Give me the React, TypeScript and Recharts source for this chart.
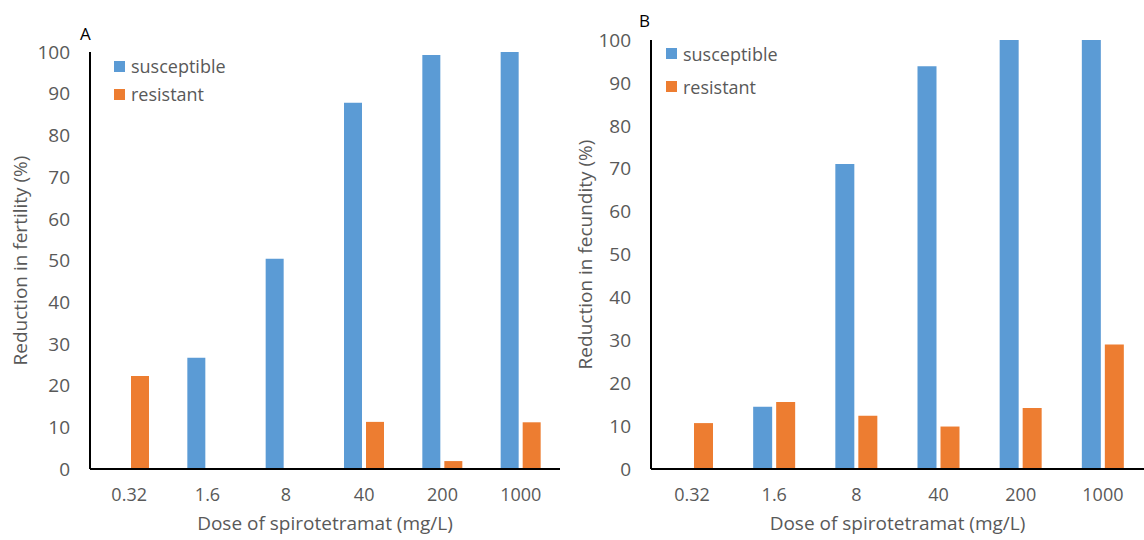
import React from 'react';
import { BarChart, Bar, XAxis, YAxis } from 'recharts';

const categories = ['0.32', '1.6', '8', '40', '200', '1000'];
const fertilitySusceptible = [0, 26.7, 50.4, 87.8, 99.3, 100];
const fertilityResistant = [22.3, 0, 0, 11.3, 1.9, 11.2];
const fecunditySusceptible = [0, 14.5, 71.1, 93.9, 100, 100];
const fecundityResistant = [10.7, 15.6, 12.4, 9.9, 14.2, 29.0];
const yTicks = [0, 10, 20, 30, 40, 50, 60, 70, 80, 90, 100];
const seriesNames = ['susceptible', 'resistant'];

const BLUE = '#5B9BD5';
const ORANGE = '#ED7D31';
const seriesColors = [BLUE, ORANGE];
const TEXT = '#595959';
const FONT = '"Open Sans", sans-serif';

const dataA = categories.map((c, i) => ({ dose: c, susceptible: fertilitySusceptible[i], resistant: fertilityResistant[i] }));
const dataB = categories.map((c, i) => ({ dose: c, susceptible: fecunditySusceptible[i], resistant: fecundityResistant[i] }));

function LegendBox(props: { left: number; top: number; rowGap: number }) {
  return (
    <div style={{ position: 'absolute', left: props.left, top: props.top, fontFamily: FONT, fontSize: 18, color: TEXT }}>
      {seriesNames.map((n, i) => (
        <div key={n} style={{ display: 'flex', alignItems: 'center', height: props.rowGap }}>
          <span style={{ display: 'inline-block', width: 11, height: 11, background: seriesColors[i], marginRight: 6 }} />
          <span>{n}</span>
        </div>
      ))}
    </div>
  );
}

function Panel(props: {
  data: any[];
  width: number;
  top: number;
  yWidth: number;
  yLabel: string;
  yLabelX: number;
  barSize: number;
}) {
  const { data, width, top, yWidth, yLabel, yLabelX, barSize } = props;
  return (
    <BarChart
      width={width}
      height={540}
      data={data}
      margin={{ top, right: 0, bottom: 0, left: 0 }}
      barGap={4}
      barSize={barSize}
    >
      <XAxis
        dataKey="dose"
        height={71}
        tickLine={false}
        tickSize={0}
        tickMargin={19}
        axisLine={{ stroke: '#000', strokeWidth: 2 }}
        tick={{ fill: TEXT, fontSize: 18, fontFamily: FONT }}
        label={{
          content: (p: any) => {
            const vb = p.viewBox;
            return (
              <text x={vb.x + vb.width / 2} y={vb.y + 54} textAnchor="middle" dominantBaseline="central" fill={TEXT} fontSize={19} fontFamily={FONT}>
                Dose of spirotetramat (mg/L)
              </text>
            );
          },
        }}
      />
      <YAxis
        width={yWidth}
        domain={[0, 100]}
        ticks={yTicks}
        interval={0}
        tickLine={false}
        tickSize={0}
        tickMargin={20}
        axisLine={{ stroke: '#000', strokeWidth: 2 }}
        tick={{ fill: TEXT, fontSize: 19, fontFamily: FONT }}
        label={{
          content: (p: any) => {
            const vb = p.viewBox;
            const cx = yLabelX;
            const cy = vb.y + vb.height / 2;
            return (
              <text x={cx} y={cy} transform={`rotate(-90 ${cx} ${cy})`} textAnchor="middle" dominantBaseline="central" fill={TEXT} fontSize={19} fontFamily={FONT}>
                {yLabel}
              </text>
            );
          },
        }}
      />
      <Bar dataKey="susceptible" name="susceptible" fill={BLUE} isAnimationActive={false} />
      <Bar dataKey="resistant" name="resistant" fill={ORANGE} isAnimationActive={false} />
    </BarChart>
  );
}

export default function App() {
  return (
    <div style={{ position: 'absolute', left: 0, top: 0, width: 1144, height: 540, background: '#fff', overflow: 'hidden' }}>
      <div style={{ position: 'absolute', left: 0, top: 0 }}>
        <Panel data={dataA} width={560} top={52} yWidth={90} yLabel="Reduction in fertility (%)" yLabelX={20} barSize={18} />
      </div>
      <div style={{ position: 'absolute', left: 560, top: 0 }}>
        <Panel data={dataB} width={584} top={40} yWidth={91} yLabel="Reduction in fecundity (%)" yLabelX={25} barSize={19} />
      </div>
      <LegendBox left={114} top={52} rowGap={28} />
      <LegendBox left={666} top={37} rowGap={33} />
      <div style={{ position: 'absolute', left: 80, top: 22, fontFamily: FONT, fontSize: 17, color: '#000' }}>A</div>
      <div style={{ position: 'absolute', left: 639, top: 9, fontFamily: FONT, fontSize: 17, color: '#000' }}>B</div>
    </div>
  );
}
